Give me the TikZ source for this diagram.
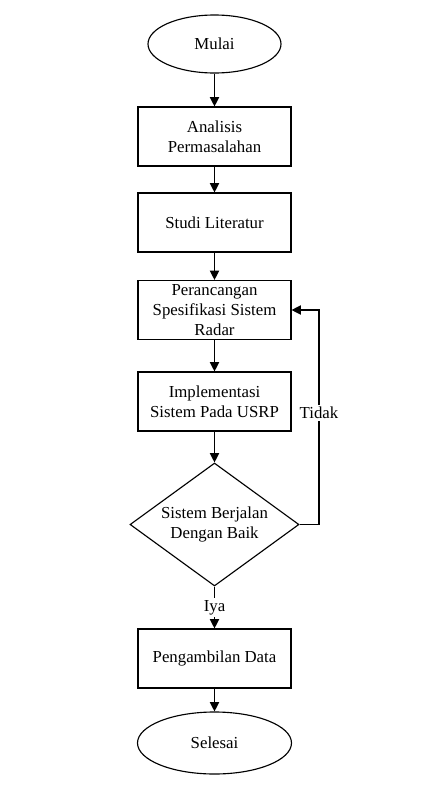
\documentclass[tikz,border=0pt]{standalone}
\usepackage{fontspec}
\setmainfont{Liberation Serif}
\usetikzlibrary{shapes.geometric,arrows.meta}
\begin{document}
\begin{tikzpicture}[x=0.75pt,y=-0.75pt,
  every node/.style={font=\fontsize{12.6}{15.3}\selectfont, align=center},
  box/.style={draw, line width=0.85pt, minimum width=114.75pt, minimum height=44.25pt, inner sep=1pt},
  term/.style={draw, ellipse, line width=0.85pt, inner sep=0pt},
  decision/.style={draw, diamond, line width=0.85pt, inner sep=0pt, aspect=1.374, minimum width=126.75pt, minimum height=92.25pt},
  arr/.style={-{Triangle[length=7pt,width=7pt]}, line width=0.85pt},
  lbl/.style={fill=white, inner sep=1.5pt}]
\useasboundingbox (0,0) rectangle (446,800);
\fill[white] (0,0) rectangle (446,800);

\node[term, minimum width=99.75pt, minimum height=43.5pt] (start) at (214.5,44) {Mulai};
\node[box] (p1) at (214.5,136.5) {Analisis\\Permasalahan};
\node[box] (p2) at (214.5,222.5) {Studi Literatur};
\node[box] (p3) at (214.5,310) {Perancangan\\Spesifikasi Sistem\\Radar};
\node[box] (p4) at (214.5,401.5) {Implementasi\\Sistem Pada USRP};
\node[decision] (d) at (214.5,524.5) {Sistem Berjalan\\Dengan Baik};
\node[box] (p5) at (214.5,658.5) {Pengambilan Data};
\node[term, minimum width=115.5pt, minimum height=46.5pt] (end) at (214.5,743) {Selesai};

\coordinate (c1) at (319,524.5);
\coordinate (c2) at (319,310);

\draw[arr] (start) -- (p1);
\draw[arr] (p1) -- (p2);
\draw[arr] (p2) -- (p3);
\draw[arr] (p3) -- (p4);
\draw[arr] (p4) -- (d);
\draw[arr] (d) -- node[lbl, pos=0.5] {Iya} (p5);
\draw[arr] (p5) -- (end);
\draw[arr] (d.east) -- (c1) -- node[lbl, pos=0.52] {Tidak} (c2) -- (p3.east);
\end{tikzpicture}
\end{document}
